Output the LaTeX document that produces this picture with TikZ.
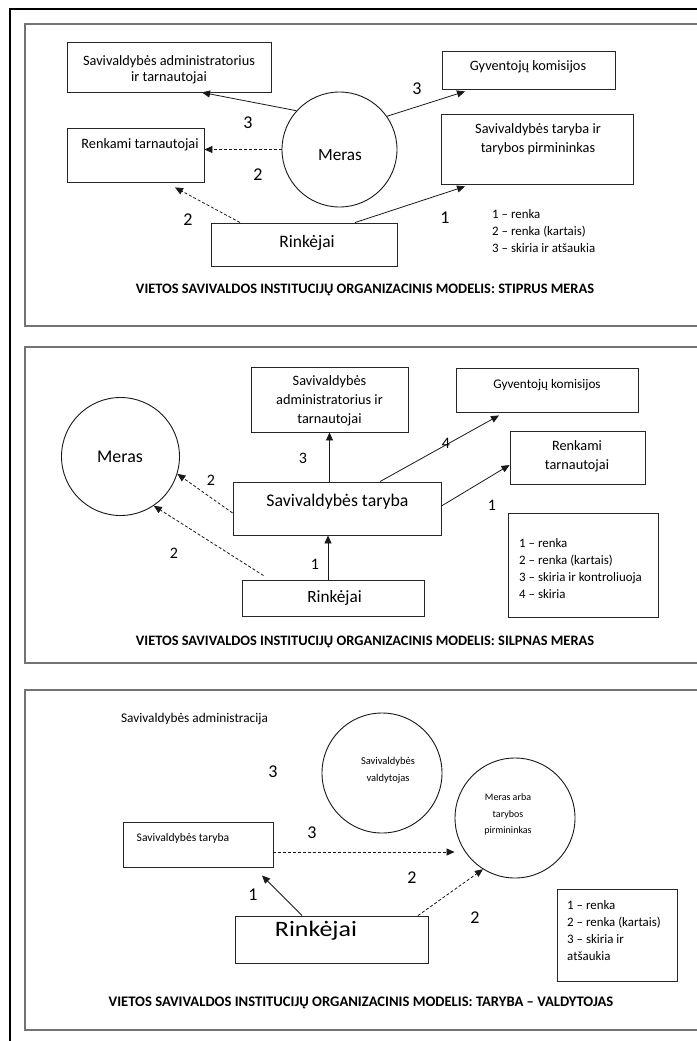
\documentclass[tikz,border=0pt]{standalone}
\usepackage{fontspec}
\setmainfont{Carlito}
\usetikzlibrary{arrows.meta}
\newcommand{\fs}[1]{\fontsize{#1}{#1}\selectfont}
\tikzset{
  frame/.style={draw=black, line width=2pt},
  panel/.style={draw=black!55, line width=1.6pt},
  box/.style={draw=black!85, line width=0.9pt, inner sep=0pt},
  ring/.style={draw=black!90, line width=0.9pt, circle, inner sep=0pt},
  txt/.style={inner sep=0pt, align=center, font=\fs{14.3}},
  num/.style={inner sep=0pt, font=\fs{18}},
  legend/.style={inner sep=0pt, align=left, anchor=west, font=\fontsize{12.9}{17}\selectfont},
  heading/.style={inner sep=0pt, font=\bfseries\fs{14.4}},
  link/.style={line width=0.8pt, draw=black!90, -{Triangle[length=8pt,width=7pt]}},
  dlink/.style={link, dash pattern=on 3pt off 2pt}
}
\begin{document}
\begin{tikzpicture}[x=1pt,y=-1pt]
\useasboundingbox (0,0) rectangle (696,1041);
\fill[white] (0,0) rectangle (696,1041);
% outer frame (its right and bottom sides lie outside the page)
\draw[frame] (10,1045) -- (10,9) -- (700,9);
% the three panels
\draw[panel] (700,24) -- (25,24) -- (25,326) -- (700,326);
\draw[panel] (700,347) -- (25,347) -- (25,663) -- (700,663);
\draw[panel] (700,690) -- (25,690) -- (25,1030) -- (700,1030);

% ---------- panel 1: strong mayor ----------
\node[box, minimum width=204pt, minimum height=50pt] (adm1) at (169,67) {};
\node[txt, font=\fontsize{14.3}{16.5}\selectfont] (adm1t) at (169,70) {Savivaldybės administratorius\\ir tarnautojai};
\node[box, minimum width=137pt, minimum height=54pt] (ren1) at (135.5,155) {};
\node[txt] (ren1t) at (140,145) {Renkami tarnautojai};
\node[ring, minimum size=115pt] (mer1) at (339.5,149.5) {};
\node[txt, font=\fs{17.2}] (mer1t) at (340,155) {Meras};
\node[box, minimum width=186pt, minimum height=43pt] (rin1) at (304,244.5) {};
\node[txt, font=\fs{17.5}] (rin1t) at (307,243) {Rinkėjai};
\node[box, minimum width=173pt, minimum height=38pt] (gyv1) at (528.5,70) {};
\node[txt] (gyv1t) at (528,67) {Gyventojų komisijos};
\node[box, minimum width=192pt, minimum height=70pt] (tar1) at (537,149) {};
\node[txt, font=\fontsize{14.3}{19}\selectfont] (tar1t) at (538,139.5) {Savivaldybės taryba ir\\tarybos pirmininkas};
\node[legend] (leg1) at (492,231) {1 – renka\\2 – renka (kartais)\\3 – skiria ir atšaukia};
\node[heading] (head1) at (365,290) {VIETOS SAVIVALDOS INSTITUCIJŲ ORGANIZACINIS MODELIS: STIPRUS MERAS};

\draw[link] (mer1.138) -- ([xshift=33pt]adm1.south);
\draw[dlink] (mer1.west) -- (mer1.west -| ren1.east);
\draw[dlink] ([xshift=-64pt]rin1.north) -- ([xshift=39.5pt,yshift=-5pt]ren1.south);
\draw[link] (mer1.35) -- ([xshift=-63.5pt,yshift=-2pt]gyv1.south);
\draw[link] ([xshift=51pt]rin1.north) -- ([xshift=-72pt,yshift=-2pt]tar1.south);
\node[num] (n1a) at (248,123) {3};
\node[num] (n1b) at (258,175) {2};
\node[num] (n1c) at (188,220) {2};
\node[num] (n1d) at (417,89) {3};
\node[num] (n1e) at (445,218) {1};

% ---------- panel 2: weak mayor ----------
\node[ring, minimum size=118pt] (mer2) at (120.5,456.5) {};
\node[txt, font=\fs{17.9}] (mer2t) at (120,457) {Meras};
\node[box, minimum width=157pt, minimum height=65pt] (adm2) at (329.5,399.5) {};
\node[txt, font=\fontsize{14.3}{19}\selectfont] (adm2t) at (329.5,401) {Savivaldybės\\administratorius ir\\tarnautojai};
\node[box, minimum width=208pt, minimum height=53pt] (tar2) at (337,508.5) {};
\node[txt, font=\fs{17.8}] (tar2t) at (337.5,502) {Savivaldybės taryba};
\node[box, minimum width=182pt, minimum height=36pt] (rin2) at (333,598) {};
\node[txt, font=\fs{17.2}] (rin2t) at (334.5,598) {Rinkėjai};
\node[box, minimum width=182pt, minimum height=44pt] (gyv2) at (547,390) {};
\node[txt, font=\fs{13.2}] (gyv2t) at (547,385) {Gyventojų komisijos};
\node[box, minimum width=135pt, minimum height=53pt] (ren2) at (577.5,457.5) {};
\node[txt, font=\fontsize{14.3}{19}\selectfont] (ren2t) at (577,456.5) {Renkami\\tarnautojai};
\node[box, minimum width=150pt, minimum height=104pt] (leg2b) at (583,565) {};
\node[legend] (leg2) at (519,569) {1 – renka\\2 – renka (kartais)\\3 – skiria ir kontroliuoja\\4 – skiria};
\node[heading] (head2) at (365,642) {VIETOS SAVIVALDOS INSTITUCIJŲ ORGANIZACINIS MODELIS: SILPNAS MERAS};

\draw[dlink] ([yshift=-4.5pt]tar2.west) -- (mer2.-17);
\draw[dlink] ([xshift=-69.5pt,yshift=4pt]rin2.north) -- (mer2.-56);
\draw[link] (adm2.south |- tar2.north) -- (adm2.south);
\draw[link] ([xshift=-5pt]rin2.north) -- ([xshift=-5pt]rin2.north |- tar2.south);
\draw[link] ([xshift=43pt]tar2.north) -- ([xshift=-48pt,yshift=-3pt]gyv2.south);
\draw[link] ([yshift=2.5pt]tar2.east) -- ([yshift=-7.5pt]ren2.west);
\node[num, font=\fs{16}] (n2a) at (303,458) {3};
\node[num, font=\fs{16}] (n2b) at (211,480) {2};
\node[num, font=\fs{16}] (n2c) at (174,553) {2};
\node[num, font=\fs{16}] (n2d) at (315,564) {1};
\node[num, font=\fs{16}] (n2e) at (446,443) {4};
\node[num, font=\fs{16}] (n2f) at (492,505) {1};

% ---------- panel 3: council and manager ----------
\node[txt, font=\fs{13.3}] (adm3t) at (194.5,719) {Savivaldybės administracija};
\node[ring, minimum size=120pt] (val3) at (382,773) {};
\node[txt, font=\fontsize{10.5}{17}\selectfont] (val3t) at (388,770.5) {Savivaldybės\\valdytojas};
\node[ring, minimum size=120pt] (mer3) at (515,818) {};
\node[txt, font=\fontsize{10}{16.5}\selectfont] (mer3t) at (508,814.5) {Meras arba\\tarybos\\pirmininkas};
\node[box, minimum width=150pt, minimum height=45pt] (tar3) at (198,844.5) {};
\node[txt, font=\fs{11.6}] (tar3t) at (183,838) {Savivaldybės taryba};
\node[box, minimum width=193pt, minimum height=47pt] (rin3) at (331.5,939.5) {};
\node[txt, font=\fs{22}, xscale=1.18] (rin3t) at (316,931) {Rinkėjai};
\node[box, minimum width=120pt, minimum height=92pt] (leg3b) at (617,935) {};
\node[legend] (leg3) at (567,931) {1 – renka\\2 – renka (kartais)\\3 – skiria ir\\atšaukia};
\node[heading, font=\bfseries\fs{14.6}] (head3) at (361,1003) {VIETOS SAVIVALDOS INSTITUCIJŲ ORGANIZACINIS MODELIS: TARYBA – VALDYTOJAS};

\draw[dlink] ([yshift=-7.5pt]tar3.east) -- ([yshift=-34pt]mer3.west);
\draw[dlink] ([xshift=86.5pt]rin3.north) -- (mer3.-122);
\draw[link] ([xshift=-29.5pt]rin3.north) -- ([xshift=64pt,yshift=-8pt]tar3.south);
\node[num] (n3a) at (273,772) {3};
\node[num] (n3b) at (312,833) {3};
\node[num] (n3c) at (253,895) {1};
\node[num] (n3d) at (412,878) {2};
\node[num] (n3e) at (475,918) {2};
\end{tikzpicture}
\end{document}
